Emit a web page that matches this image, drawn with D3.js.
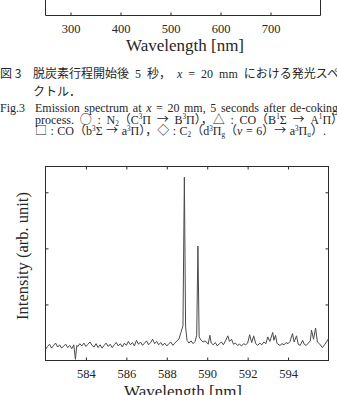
<!DOCTYPE html>
<html>
<head>
<meta charset="utf-8">
<script src="https://cdn.jsdelivr.net/npm/d3@7"></script>
<style>
  body { margin: 0; background: #fff; overflow: hidden; }
  svg { display: block; }
  text { font-family: "Liberation Serif", "Noto Sans CJK JP", serif; fill: #262626; }
  .jp { font-family: "Noto Sans CJK JP", sans-serif; }
</style>
</head>
<body>
<div id="chart"></div>
<script>
// upper chart (only its bottom edge is visible)
const topTicks = [300, 400, 500, 600, 700];

// lower chart: emission spectrum
const bottomTicks = [584, 586, 588, 590, 592, 594];
const yTicks = [1, 2, 3];
const wavelength = [
  582.0, 582.1, 582.2, 582.3, 582.4, 582.5, 582.6, 582.7, 582.8, 582.9,
  583.0, 583.1, 583.2, 583.3, 583.4, 583.48, 583.55, 583.6, 583.7, 583.8, 583.9,
  584.0, 584.1, 584.2, 584.3, 584.4, 584.5, 584.6, 584.7, 584.8, 584.9,
  585.0, 585.1, 585.2, 585.3, 585.4, 585.5, 585.6, 585.7, 585.8, 585.9,
  586.0, 586.1, 586.2, 586.3, 586.4, 586.5, 586.6, 586.7, 586.8, 586.9,
  587.0, 587.1, 587.2, 587.3, 587.4, 587.5, 587.6, 587.7, 587.8, 587.9,
  588.0, 588.1, 588.2, 588.3, 588.4, 588.5, 588.6, 588.7, 588.8, 588.87, 588.93,
  589.0, 589.1, 589.2, 589.3, 589.4, 589.48, 589.54, 589.6, 589.7, 589.8, 589.9,
  590.0, 590.05, 590.13, 590.2, 590.3, 590.4, 590.5, 590.6, 590.7, 590.8, 590.9,
  591.02, 591.1, 591.2, 591.3, 591.4, 591.5, 591.6, 591.7, 591.8, 591.9,
  592.0, 592.1, 592.2, 592.3, 592.4, 592.5, 592.6, 592.7, 592.8, 592.9,
  593.0, 593.1, 593.24, 593.3, 593.38, 593.45, 593.5, 593.6, 593.7, 593.8, 593.9,
  594.0, 594.1, 594.22, 594.3, 594.42, 594.5, 594.6, 594.72, 594.8, 594.9,
  595.0, 595.1, 595.16, 595.26, 595.36, 595.45, 595.55, 595.7, 595.8, 595.9, 596.0
];
const intensity = [
  0.20, 0.25, 0.29, 0.22, 0.27, 0.31, 0.24, 0.28, 0.22, 0.26,
  0.29, 0.23, 0.27, 0.21, 0.28, 0.02, 0.27, 0.25, 0.30, 0.26, 0.31,
  0.25, 0.29, 0.33, 0.27, 0.24, 0.30, 0.23, 0.28, 0.22, 0.27,
  0.31, 0.25, 0.29, 0.23, 0.28, 0.32, 0.26, 0.30, 0.24, 0.31,
  0.27, 0.34, 0.28, 0.32, 0.26, 0.36, 0.29, 0.33, 0.27, 0.31,
  0.35, 0.28, 0.32, 0.38, 0.30, 0.34, 0.28, 0.32, 0.27, 0.31,
  0.26, 0.30, 0.33, 0.27, 0.31, 0.35, 0.38, 0.50, 0.62, 3.27, 0.60,
  0.36, 0.31, 0.35, 0.30, 0.34, 0.45, 2.04, 0.42, 0.36, 0.33, 0.35,
  0.31, 0.29, 0.45, 0.31, 0.28, 0.32, 0.26, 0.30, 0.33, 0.28, 0.35,
  0.44, 0.34, 0.38, 0.29, 0.31, 0.27, 0.29, 0.26, 0.30, 0.28,
  0.31, 0.46, 0.32, 0.44, 0.30, 0.27, 0.31, 0.28, 0.33, 0.30,
  0.42, 0.34, 0.50, 0.36, 0.45, 0.31, 0.29, 0.27, 0.30, 0.28, 0.32,
  0.30, 0.34, 0.48, 0.33, 0.44, 0.29, 0.27, 0.36, 0.29, 0.27,
  0.31, 0.35, 0.54, 0.38, 0.58, 0.33, 0.30, 0.23, 0.28, 0.33, 0.39
];

// caption lines (^{} superscript, _{} subscript, ** italic)
const captionJa = ["脱炭素行程開始後 5 秒， *x* = 20 mm における発光スペ", "クトル．"];
const captionEn = [
  "Emission spectrum at *x* = 20 mm, 5 seconds after de-coking",
  "process. ○ : N_{2}（C^{3}Π → B^{3}Π），△ : CO（B^{1}Σ → A^{1}Π）",
  "□ : CO（b^{3}Σ → a^{3}Π），◇ : C_{2}（d^{3}Π_{g}（*v* = 6）→ a^{3}Π_{u}）."
];
const enSpacing = [1.6, 2.7, 0.5];

const W = 337, H = 395;
const svg = d3.select("#chart").append("svg").attr("width", W).attr("height", H);
const ink = "#2b2b2b";

// write text with simple markup into tspans; symbols go to the CJK face
function addRich(sel, str, size) {
  const parts = str.split(/(\^\{[^}]*\}|_\{[^}]*\}|\*[^*]*\*|[○△□◇→])/g).filter(s => s !== "");
  let shift = 0;
  parts.forEach(p => {
    let txt = p, dy = 0, fs = size, italic = false, cjk = false;
    if (p.startsWith("^{")) { txt = p.slice(2, -1); dy = -size * 0.38; fs = size * 0.6; }
    else if (p.startsWith("_{")) { txt = p.slice(2, -1); dy = size * 0.18; fs = size * 0.6; }
    else if (p.length > 1 && p.startsWith("*")) { txt = p.slice(1, -1); italic = true; }
    else if (/^[○△□◇→]$/.test(p)) { cjk = true; }
    const t = sel.append("tspan").attr("dy", dy - shift).style("font-size", fs + "px").text(txt);
    if (italic) t.style("font-style", "italic");
    if (cjk) t.attr("class", "jp");
    shift = dy;
  });
}

// ---------- upper chart bottom edge ----------
const xTop = d3.scaleLinear().domain([250, 800]).range([45.5, 320.5]);
const topG = svg.append("g");
topG.append("path")
  .attr("d", `M${xTop.range()[0]},-2V15.5H${xTop.range()[1]}V-2`)
  .attr("fill", "none").attr("stroke", ink).attr("stroke-width", 1);
const topAxis = topG.append("g").attr("transform", "translate(0,15.5)")
  .call(d3.axisBottom(xTop).tickValues(topTicks).tickSizeInner(-3).tickSizeOuter(0).tickPadding(8.5));
topAxis.select(".domain").remove();
topAxis.selectAll("line").attr("stroke", ink);
topAxis.selectAll("text").attr("font-size", 12.5).attr("font-family", "Liberation Serif").attr("fill", ink);
topG.append("text").attr("x", 185).attr("y", 50.5).attr("text-anchor", "middle")
  .attr("font-size", 17).text("Wavelength [nm]");

// ---------- caption ----------
const cap = svg.append("g");
cap.append("text").attr("x", 0).attr("y", 77.5).attr("font-size", 12).attr("class", "jp").text("図 3");
captionJa.forEach((line, i) => {
  const t = cap.append("text").attr("x", 33).attr("y", 77.5 + i * 18.5)
    .attr("font-size", 12).attr("word-spacing", 3);
  addRich(t, line, 12);
});
cap.append("text").attr("x", 0).attr("y", 112).attr("font-size", 12).text("Fig.3");
captionEn.forEach((line, i) => {
  const t = cap.append("text").attr("x", 35).attr("y", 112 + i * 11.6)
    .attr("font-size", 12).attr("word-spacing", enSpacing[i]);
  addRich(t, line, 12);
});

// ---------- spectrum chart ----------
const x = d3.scaleLinear().domain([582, 596]).range([45.5, 328.5]);
const y = d3.scaleLinear().domain([0, 3.46]).range([360.5, 166.5]);
const g = svg.append("g");

g.append("rect").attr("x", x(582)).attr("y", y(3.46))
  .attr("width", x(596) - x(582)).attr("height", y(0) - y(3.46))
  .attr("fill", "none").attr("stroke", ink).attr("stroke-width", 1);

const axB = g.append("g").attr("transform", `translate(0,${y(0)})`)
  .call(d3.axisBottom(x).tickValues(bottomTicks).tickSizeInner(-3).tickSizeOuter(0).tickPadding(8.5));
const axT = g.append("g").attr("transform", `translate(0,${y(3.46)})`)
  .call(d3.axisTop(x).tickValues(bottomTicks).tickSizeInner(-3).tickSizeOuter(0).tickFormat(""));
const axL = g.append("g").attr("transform", `translate(${x(582)},0)`)
  .call(d3.axisLeft(y).tickValues(yTicks).tickSizeInner(-3).tickSizeOuter(0).tickFormat(""));
const axR = g.append("g").attr("transform", `translate(${x(596)},0)`)
  .call(d3.axisRight(y).tickValues(yTicks).tickSizeInner(-3).tickSizeOuter(0).tickFormat(""));
[axB, axT, axL, axR].forEach(a => {
  a.select(".domain").remove();
  a.selectAll("line").attr("stroke", ink);
});
axB.selectAll("text").attr("font-size", 12.5).attr("font-family", "Liberation Serif").attr("fill", ink);

const spectrum = wavelength.map((w, i) => [w, intensity[i]]);
g.append("path").datum(spectrum)
  .attr("fill", "none").attr("stroke", "#4a4a4a").attr("stroke-width", 1)
  .attr("stroke-linejoin", "round")
  .attr("d", d3.line().x(d => x(d[0])).y(d => y(d[1])));

g.append("text").attr("x", 183).attr("y", 396.5).attr("text-anchor", "middle")
  .attr("font-size", 17).text("Wavelength [nm]");
g.append("text").attr("transform", "translate(27.5,256) rotate(-90)").attr("text-anchor", "middle")
  .attr("font-size", 16.5).text("Intensity (arb. unit)");
</script>
</body>
</html>
